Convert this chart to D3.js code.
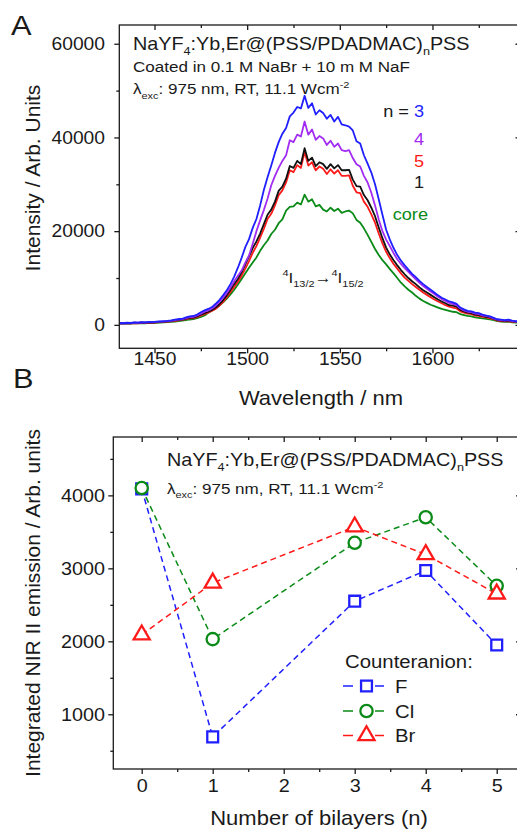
<!DOCTYPE html>
<html>
<head>
<meta charset="utf-8">
<script src="https://cdn.jsdelivr.net/npm/d3@7"></script>
<style>
  body { margin: 0; background: #fff; }
  svg { display: block; font-family: "Liberation Sans", Arial, sans-serif; }
</style>
</head>
<body>
<div id="chart"></div>
<script>
// ---- panel A: NIR emission spectra (2 nm steps) ----
const wavelength = [
  1431,1433,1435,1437,1439,1441,1443,1445,1447,1449,
  1451,1453,1455,1457,1459,1461,1463,1465,1467,1469,
  1471,1473,1475,1477,1479,1481,1483,1485,1487,1489,
  1491,1493,1495,1497,1499,1501,1503,1505,1507,1509,
  1511,1513,1515,1517,1519,1521,1523,1525,1527,1529,
  1531,1533,1535,1537,1539,1541,1543,1545,1547,1549,
  1551,1553,1555,1557,1559,1561,1563,1565,1567,1569,
  1571,1573,1575,1577,1579,1581,1583,1585,1587,1589,
  1591,1593,1595,1597,1599,1601,1603,1605,1607,1609,
  1611,1613,1615,1617,1619,1621,1623,1625,1627,1629,
  1631,1633,1635,1637,1639,1641,1643,1645,1647];

const specCore = [
  250,250,300,250,350,300,400,350,450,400,
  450,500,550,600,650,700,800,900,1000,1150,
  1250,1450,1700,2000,2600,3000,3500,4100,4800,5600,
  6500,7500,8600,9800,11000,12200,13300,14400,15800,17000,
  18000,19400,20300,21700,22500,24400,25200,25300,26100,25700,
  27800,26300,26800,25300,25600,24600,24200,25000,24300,24800,
  23900,24200,24400,23800,22400,21800,20600,19200,17700,16200,
  14900,13800,12900,11900,11000,10000,9000,8200,7500,6900,
  6200,5600,5100,4700,4300,4000,3700,3400,3200,3000,
  2800,2700,2300,2100,1900,1800,1600,1500,1400,1300,
  1150,1000,800,700,650,700,550,500,450];

const specN5 = [
  250,350,300,300,400,350,450,400,500,450,
  550,600,600,700,750,850,950,1050,1250,1400,
  1450,1650,2000,2300,2600,3000,3400,4100,4900,5900,
  7000,8100,9200,10500,12000,13600,15400,16800,18600,20500,
  22600,23700,25500,27700,28700,30400,33000,32600,34100,33500,
  36900,34000,34700,33000,33800,33300,32200,33200,32300,33000,
  31800,31800,31900,29700,28300,28100,26300,25200,23600,21800,
  19500,17400,15600,14200,13000,12000,11000,10100,9400,8700,
  8100,7500,6900,6400,5900,5400,5000,4600,4200,3900,
  3700,3500,2900,2600,2400,2300,2000,1900,1700,1600,
  1400,1200,900,800,750,800,650,600,550];

const specN1 = [
  300,300,350,300,450,400,500,450,550,500,
  600,650,650,750,800,950,1050,1100,1350,1500,
  1550,1800,2200,2500,2800,3200,3700,4400,5300,6300,
  7500,8700,9800,11200,12900,14600,16400,17800,19500,21500,
  23500,24600,26300,28600,29500,31200,33900,33500,35000,34300,
  37700,35000,35700,33900,34700,34300,33300,34300,33400,34100,
  33000,33000,33100,31000,29600,29500,27700,26600,25000,23200,
  20800,18500,16500,15000,13800,12700,11700,10800,10000,9300,
  8700,8000,7400,6900,6400,5900,5400,5000,4600,4200,
  4100,3900,3200,2900,2600,2500,2200,2100,1900,1700,
  1600,1300,1000,900,850,900,750,650,600];

const specN4 = [
  350,300,400,350,500,450,550,500,600,550,
  650,700,700,800,850,1000,1150,1200,1450,1650,
  1700,2000,2400,2800,3100,3500,4100,4900,5800,6800,
  8000,9300,10500,11600,13300,14800,17300,20000,22300,24500,
  26900,29800,31800,33500,35000,36200,39400,39000,40600,40200,
  43400,40600,41700,39500,40300,39800,38400,39300,38000,38700,
  37300,37100,37300,35600,34300,33800,31800,30400,28200,25500,
  22500,20000,18200,16800,15300,14000,13000,12100,11300,10500,
  9700,9000,8300,7700,7100,6600,6000,5500,5100,4700,
  4500,4200,3500,3100,2800,2700,2400,2300,2000,1900,
  1700,1400,1100,1000,900,1000,800,700,650];

const specN3 = [
  400,350,450,400,550,500,600,550,650,600,
  700,750,800,850,950,1100,1250,1300,1600,1800,
  1900,2200,2700,3100,3400,3800,4500,5300,6300,7400,
  8700,10300,12200,14300,16600,18300,20700,22600,25500,28800,
  31500,34000,36700,39000,40800,42000,44500,45300,46500,46200,
  48900,46300,47300,44900,45800,45200,44000,44800,43400,44400,
  42800,42600,42300,41500,39200,38700,36200,34400,32500,30000,
  26800,23500,20300,18200,16400,14900,13700,12700,11800,10900,
  10200,9400,8700,8100,7500,6900,6300,5800,5400,5000,
  4800,4500,3700,3300,3000,2900,2600,2500,2200,2000,
  1800,1500,1200,1100,1000,1100,900,800,700];

// ---- panel B: integrated NIR II emission ----
const bilayers = [0, 1, 3, 4, 5];
const emF  = [4090, 690, 2550, 2970, 1950];
const emCl = [4100, 2030, 3350, 3700, 2760];
const emBr = [2090, 2800, 3570, 3190, 2650];

const ink = "#1a1a1a";
const cBlue = "#1f1fff", cPurple = "#a22cf2", cRed = "#ff1a1a", cGreen = "#0a8a16";

const svg = d3.select("#chart").append("svg")
  .attr("width", 517).attr("height", 831);
svg.append("rect").attr("width", 517).attr("height", 831).attr("fill", "#fff");

// text with sub/superscript pieces; sx stretches horizontally like the original
function addText(g, x, y, parts, opt = {}) {
  const size = opt.size || 16;
  const sx = opt.sx === undefined ? 1.1 : opt.sx;
  const t = g.append("text")
    .attr("transform", opt.rotate
      ? `translate(${x},${y}) rotate(-90)`
      : `translate(${x},${y}) scale(${sx},1)`)
    .attr("text-anchor", opt.anchor || "start")
    .attr("font-size", size)
    .attr("fill", opt.fill || ink);
  let shift = 0;
  parts.forEach(p => {
    const [str, kind, color] = typeof p === "string" ? [p, "", null] : p;
    const target = kind === "sub" ? 0.28 * size : kind === "sup" ? -0.42 * size : 0;
    const ts = t.append("tspan").text(str).attr("dy", target - shift);
    if (kind) ts.attr("font-size", size * 0.64);
    if (color) ts.attr("fill", color);
    shift = target;
  });
  return t;
}

function styleAxis(sel) {
  sel.attr("font-size", null).attr("font-family", null).attr("color", ink);
  sel.select(".domain").remove();
  sel.selectAll("line").attr("stroke-width", 1.3);
}

function drawFrame(box, x, y, o) {
  const g = svg.append("g");
  const inX = v => v >= x.domain()[0] && v <= x.domain()[1];
  const xMaj = o.xMajor.filter(inX), xMin = o.xMinor.filter(inX);

  // bottom
  g.append("g").attr("transform", `translate(0,${box.bottom})`)
    .call(d3.axisBottom(x).tickValues(xMaj).tickSize(5).tickFormat(d3.format("d")))
    .call(styleAxis)
    .call(s => s.selectAll("text").attr("dy", null).attr("y", o.xLabelY)
      .attr("font-size", o.tickFont).attr("transform", "scale(1.1,1)"));
  g.append("g").attr("transform", `translate(0,${box.bottom})`)
    .call(d3.axisBottom(x).tickValues(xMin).tickSize(3).tickFormat(""))
    .call(styleAxis);
  // top (ticks inward)
  g.append("g").attr("transform", `translate(0,${box.top})`)
    .call(d3.axisTop(x).tickValues(xMaj).tickSize(-5).tickFormat(""))
    .call(styleAxis);
  g.append("g").attr("transform", `translate(0,${box.top})`)
    .call(d3.axisTop(x).tickValues(xMin).tickSize(-3).tickFormat(""))
    .call(styleAxis);
  // left
  g.append("g").attr("transform", `translate(${box.left},0)`)
    .call(d3.axisLeft(y).tickValues(o.yMajor).tickSize(5).tickPadding(o.yPad).tickFormat(d3.format("d")))
    .call(styleAxis)
    .call(s => s.selectAll("text").attr("font-size", o.tickFont).attr("transform", "scale(1.1,1)"));
  g.append("g").attr("transform", `translate(${box.left},0)`)
    .call(d3.axisLeft(y).tickValues(o.yMinor).tickSize(3).tickFormat(""))
    .call(styleAxis);
  // right (ticks inward)
  g.append("g").attr("transform", `translate(${box.right},0)`)
    .call(d3.axisRight(y).tickValues(o.yMajor).tickSize(-5).tickFormat(""))
    .call(styleAxis);

  g.append("rect")
    .attr("x", box.left).attr("y", box.top)
    .attr("width", box.right - box.left).attr("height", box.bottom - box.top)
    .attr("fill", "none").attr("stroke", ink).attr("stroke-width", 1.3);
}

// ================= Panel A =================
const A = { left: 119.3, right: 520.5, top: 25, bottom: 348.3 };
const xA = d3.scaleLinear().domain([1431, 1647.5]).range([A.left, A.right]);
const yA = d3.scaleLinear().domain([-5000, 64000]).range([A.bottom, A.top]);

svg.append("clipPath").attr("id", "clipA").append("rect")
  .attr("x", A.left).attr("y", A.top)
  .attr("width", A.right - A.left).attr("height", A.bottom - A.top);

const spectra = [
  { vals: specCore, color: cGreen },
  { vals: specN5, color: cRed },
  { vals: specN1, color: "#111" },
  { vals: specN4, color: cPurple },
  { vals: specN3, color: cBlue }
];
const lineA = d3.line().x(d => xA(d[0])).y(d => yA(d[1]));
const gA = svg.append("g").attr("clip-path", "url(#clipA)");
spectra.forEach(s => {
  gA.append("path")
    .attr("d", lineA(wavelength.map((w, i) => [w, s.vals[i]])))
    .attr("fill", "none").attr("stroke", s.color)
    .attr("stroke-width", 1.8).attr("stroke-linejoin", "round");
});

drawFrame(A, xA, yA, {
  xMajor: [1450, 1500, 1550, 1600, 1650], xMinor: [1475, 1525, 1575, 1625],
  yMajor: [0, 20000, 40000, 60000], yMinor: [10000, 30000, 50000],
  tickFont: 17.5, xLabelY: 16.7, yPad: 8
});

addText(svg, 11, 35, ["A"], { size: 28 });
addText(svg, 133, 49.5, ["NaYF", ["4", "sub"], ":Yb,Er@(PSS/PDADMAC)", ["n", "sub"], "PSS"], { size: 18 });
addText(svg, 133, 71.7, ["Coated in 0.1 M NaBr + 10 m M NaF"], { size: 15.5 });
addText(svg, 133, 94.3, ["λ", ["exc", "sub"], ": 975 nm, RT, 11.1 Wcm", ["-2", "sup"]], { size: 15.5 });

addText(svg, 424, 116.7, ["n = ", ["3", "", cBlue]], { size: 16.5, anchor: "end" });
addText(svg, 424, 145, ["4"], { size: 16.5, anchor: "end", fill: cPurple });
addText(svg, 424, 166.7, ["5"], { size: 16.5, anchor: "end", fill: cRed });
addText(svg, 424, 188.3, ["1"], { size: 16.5, anchor: "end" });
addText(svg, 428, 220, ["core"], { size: 16.5, anchor: "end", fill: cGreen });

addText(svg, 323, 282.7,
  [["4", "sup"], "I", ["13/2", "sub"], "→", ["4", "sup"], "I", ["15/2", "sub"]],
  { size: 15.5, anchor: "middle" });

addText(svg, 321, 405, ["Wavelength / nm"], { size: 20, anchor: "middle" });
addText(svg, 40, 178, ["Intensity / Arb. Units"], { size: 21, anchor: "middle", rotate: true });

// ================= Panel B =================
const B = { left: 113.3, right: 521, top: 437, bottom: 769 };
const xB = d3.scaleLinear().domain([-0.4, 5.342]).range([B.left, B.right]);
const yB = d3.scaleLinear().domain([250, 4800]).range([B.bottom, B.top]);

drawFrame(B, xB, yB, {
  xMajor: [0, 1, 2, 3, 4, 5], xMinor: [0.5, 1.5, 2.5, 3.5, 4.5],
  yMajor: [1000, 2000, 3000, 4000], yMinor: [500, 1500, 2500, 3500, 4500],
  tickFont: 18, xLabelY: 23, yPad: 2.5
});

const series = [
  { name: "F", vals: emF, color: cBlue, sym: d3.symbolSquare, size: 118 },
  { name: "Cl", vals: emCl, color: cGreen, sym: d3.symbolCircle, size: 118 },
  { name: "Br", vals: emBr, color: cRed, sym: d3.symbolTriangle, size: 112 }
];
const lineB = d3.line().x(d => xB(d[0])).y(d => yB(d[1]));
const gB = svg.append("g");
series.forEach(s => {
  const pts = bilayers.map((n, i) => [n, s.vals[i]]);
  gB.append("path").attr("d", lineB(pts))
    .attr("fill", "none").attr("stroke", s.color)
    .attr("stroke-width", 1.5).attr("stroke-dasharray", "6,4");
});
series.forEach(s => {
  gB.selectAll(null).data(bilayers.map((n, i) => [n, s.vals[i]])).join("path")
    .attr("transform", d => `translate(${xB(d[0])},${yB(d[1])})`)
    .attr("d", d3.symbol().type(s.sym).size(s.size))
    .attr("fill", "#fff").attr("stroke", s.color).attr("stroke-width", 2.3);
});

addText(svg, 13, 388, ["B"], { size: 28 });
addText(svg, 167, 465.5, ["NaYF", ["4", "sub"], ":Yb,Er@(PSS/PDADMAC)", ["n", "sub"], "PSS"], { size: 18 });
addText(svg, 167, 494, ["λ", ["exc", "sub"], ": 975 nm, RT, 11.1 Wcm", ["-2", "sup"]], { size: 15.5 });

// legend
addText(svg, 345, 668.3, ["Counteranion:"], { size: 18.5 });
const legY = [686, 711, 735.5];
series.forEach((s, i) => {
  const y = legY[i];
  const lg = svg.append("g");
  lg.append("line").attr("x1", 343).attr("x2", 353).attr("y1", y).attr("y2", y)
    .attr("stroke", s.color).attr("stroke-width", 1.5);
  lg.append("line").attr("x1", 375).attr("x2", 384).attr("y1", y).attr("y2", y)
    .attr("stroke", s.color).attr("stroke-width", 1.5);
  lg.append("path").attr("transform", `translate(366.5,${y})`)
    .attr("d", d3.symbol().type(s.sym).size(s.size))
    .attr("fill", "#fff").attr("stroke", s.color).attr("stroke-width", 2.3);
  addText(svg, 395, y + 6.7, [s.name], { size: 18.5 });
});

addText(svg, 319, 825, ["Number of bilayers (n)"], { size: 20, anchor: "middle" });
addText(svg, 40, 603, ["Integrated NIR II emission / Arb. units"], { size: 21, anchor: "middle", rotate: true });
</script>
</body>
</html>
